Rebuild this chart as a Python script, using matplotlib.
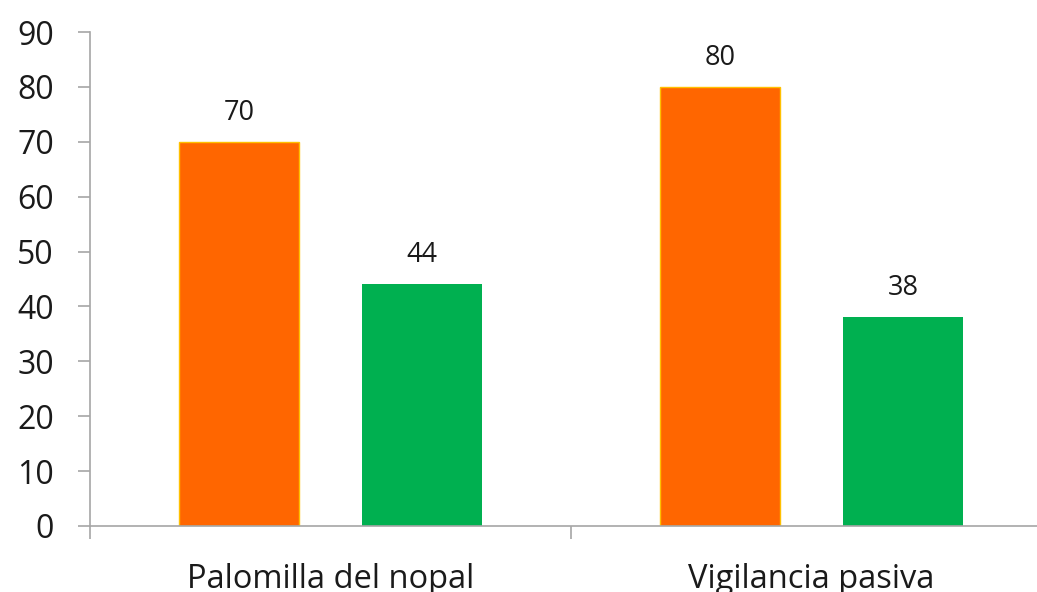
import matplotlib
matplotlib.use("Agg")
import matplotlib.pyplot as plt
from matplotlib.ticker import FixedLocator

categories = ["Palomilla del nopal", "Vigilancia pasiva"]
serie_naranja = [70, 80]
serie_verde = [44, 38]
y_ticks = list(range(0, 100, 10))

plt.rcParams['font.family'] = ['Open Sans', 'DejaVu Sans']

fig = plt.figure(figsize=(10.37, 5.92), dpi=100)
ax = fig.add_axes([0.0868, 0.1115, 0.9132, 0.8344])

x = list(range(len(categories)))
offset = 0.19
width = 0.25
b1 = ax.bar([i - offset for i in x], serie_naranja, width, color='#FF6600',
            edgecolor='#FFC000', linewidth=1)
b2 = ax.bar([i + offset for i in x], serie_verde, width, color='#00B050',
            linewidth=0)

for bars in (b1, b2):
    for rect in bars:
        h = rect.get_height()
        ax.annotate(f"{h:.0f}", (rect.get_x() + rect.get_width() / 2, h),
                    xytext=(0, 11), textcoords='offset points',
                    ha='center', va='bottom', fontsize=19.5, color='#1a1a1a')

ax.set_ylim(0, 90)
ax.set_xlim(-0.5, -0.5 + 947 / 481)
ax.set_yticks(y_ticks)
ax.set_xticks(x)
ax.set_xticklabels(categories)
ax.xaxis.set_minor_locator(FixedLocator([-0.5, 0.5, 1.5]))

spine_color = '#A6A6A6'
for s in ['top', 'right']:
    ax.spines[s].set_visible(False)
for s in ['left', 'bottom']:
    ax.spines[s].set_color(spine_color)
    ax.spines[s].set_linewidth(1.2)

ax.tick_params(axis='y', length=9, width=1.2, color=spine_color,
               labelsize=23, pad=17, labelcolor='#1a1a1a')
ax.tick_params(axis='x', which='major', length=0, labelsize=23.5, pad=27,
               labelcolor='#1a1a1a')
ax.tick_params(axis='x', which='minor', length=9, width=1.2, color=spine_color)

fig.savefig("out.png", dpi=100)
